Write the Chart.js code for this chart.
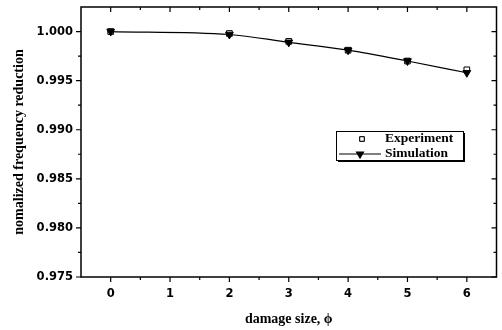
<!DOCTYPE html>
<html>
<head>
<meta charset="utf-8">
<script src="https://cdn.jsdelivr.net/npm/chart.js@4.4.1/dist/chart.umd.min.js"></script>
<style>
  html, body { margin: 0; padding: 0; background: #fff; }
  canvas { display: block; }
</style>
</head>
<body>
<canvas id="freqChart" width="502" height="330"></canvas>
<script>
// damage size vs. normalized frequency
const damageSize = [0, 2, 3, 4, 5, 6];
const experiment = [1.0000, 0.9998, 0.9990, 0.9981, 0.9970, 0.9961];
const simulation = [1.0000, 0.9997, 0.9989, 0.9981, 0.9970, 0.9958];
const xTickValues = [0, 1, 2, 3, 4, 5, 6];
const yTickValues = [0.975, 0.980, 0.985, 0.990, 0.995, 1.000];

const toPoints = (xs, ys) => xs.map((v, i) => ({ x: v, y: ys[i] }));

// box, inner/outer ticks on all four sides
const framePlugin = {
  id: 'frame',
  afterDraw(chart) {
    const { ctx, chartArea: a, scales: { x, y } } = chart;
    ctx.save();
    ctx.strokeStyle = '#000';
    ctx.lineWidth = 1.5;
    ctx.strokeRect(a.left, a.top, a.right - a.left, a.bottom - a.top);
    ctx.lineWidth = 1.2;
    ctx.beginPath();
    xTickValues.forEach((v, i) => {
      const px = x.getPixelForValue(v);
      ctx.moveTo(px, a.bottom); ctx.lineTo(px, a.bottom + 5);
      ctx.moveTo(px, a.top); ctx.lineTo(px, a.top + 5);
      if (i < xTickValues.length - 1) {
        const mx = x.getPixelForValue((v + xTickValues[i + 1]) / 2);
        ctx.moveTo(mx, a.bottom); ctx.lineTo(mx, a.bottom + 3);
        ctx.moveTo(mx, a.top); ctx.lineTo(mx, a.top + 3);
      }
    });
    yTickValues.forEach((v, i) => {
      const py = y.getPixelForValue(v);
      ctx.moveTo(a.left, py); ctx.lineTo(a.left - 5, py);
      ctx.moveTo(a.right, py); ctx.lineTo(a.right - 5, py);
      if (i < yTickValues.length - 1) {
        const my = y.getPixelForValue((v + yTickValues[i + 1]) / 2);
        ctx.moveTo(a.left, my); ctx.lineTo(a.left - 3, my);
        ctx.moveTo(a.right, my); ctx.lineTo(a.right - 3, my);
      }
    });
    ctx.stroke();
    ctx.restore();
  }
};

// boxed legend with drop shadow, inside the plot
const boxLegend = {
  id: 'boxLegend',
  afterDatasetsDraw(chart) {
    const ctx = chart.ctx;
    const bx = 336, by = 131, bw = 127, bh = 29;
    ctx.save();
    ctx.fillStyle = '#000';
    ctx.fillRect(bx + 2, by + 2, bw, bh);
    ctx.fillStyle = '#fff';
    ctx.fillRect(bx, by, bw, bh);
    ctx.strokeStyle = '#000';
    ctx.lineWidth = 1;
    ctx.strokeRect(bx + 0.5, by + 0.5, bw, bh);

    const exp = chart.data.datasets[0], sim = chart.data.datasets[1];
    Chart.helpers.drawPoint(ctx, {
      pointStyle: exp.pointStyle, radius: 3.2, rotation: 0, borderWidth: 1
    }, 362, 139);
    ctx.fillStyle = '#fff';
    ctx.fill();
    ctx.stroke();

    ctx.lineWidth = 1.2;
    ctx.beginPath();
    ctx.moveTo(339, 154); ctx.lineTo(381, 154);
    ctx.stroke();
    ctx.fillStyle = '#000';
    Chart.helpers.drawPoint(ctx, {
      pointStyle: sim.pointStyle, radius: 4, rotation: 180, borderWidth: 1
    }, 360, 154);
    ctx.fill();

    ctx.fillStyle = '#000';
    ctx.font = 'bold 13.5px "Liberation Serif"';
    ctx.textBaseline = 'middle';
    ctx.fillText(exp.label, 385, 139);
    ctx.fillText(sim.label, 385, 154);
    ctx.restore();
  }
};

const tickFont = { family: '"DejaVu Sans"', size: 11.5, weight: 'bold' };

new Chart(document.getElementById('freqChart'), {
  type: 'scatter',
  data: {
    datasets: [
      {
        label: 'Experiment',
        data: toPoints(damageSize, experiment),
        pointStyle: 'rect',
        pointRadius: 4,
        pointBorderWidth: 1,
        pointBorderColor: '#000',
        pointBackgroundColor: '#fff',
        showLine: false,
        order: 1
      },
      {
        label: 'Simulation',
        data: toPoints(damageSize, simulation),
        pointStyle: 'triangle',
        pointRotation: 180,
        pointRadius: 4.5,
        pointBorderWidth: 1,
        pointBorderColor: '#000',
        pointBackgroundColor: '#000',
        borderColor: '#000',
        borderWidth: 1.2,
        showLine: true,
        cubicInterpolationMode: 'monotone',
        order: 0
      }
    ]
  },
  options: {
    responsive: false,
    animation: false,
    devicePixelRatio: 1,
    layout: { padding: { top: 7, right: 4, left: 0, bottom: 0 } },
    plugins: {
      legend: { display: false },
      tooltip: { enabled: false }
    },
    scales: {
      x: {
        type: 'linear',
        min: -0.5,
        max: 6.5,
        afterBuildTicks: s => { s.ticks = xTickValues.map(v => ({ value: v })); },
        afterFit: s => { s.height = 53; s.paddingLeft = 0; s.paddingRight = 0; },
        grid: { display: false, drawTicks: false },
        border: { display: false },
        ticks: { color: '#000', font: tickFont, padding: 10, maxRotation: 0 },
        title: {
          display: true,
          text: 'damage size, \u03d5',
          color: '#000',
          font: { family: '"Liberation Serif"', size: 14, weight: 'bold' },
          padding: { top: 0, bottom: 2 }
        }
      },
      y: {
        type: 'linear',
        min: 0.975,
        max: 1.0025,
        afterBuildTicks: s => { s.ticks = yTickValues.map(v => ({ value: v })); },
        afterFit: s => { s.width = 81; s.paddingTop = 0; s.paddingBottom = 0; },
        grid: { display: false, drawTicks: false },
        border: { display: false },
        ticks: {
          color: '#000',
          font: tickFont,
          padding: 8,
          callback: v => v.toFixed(3)
        },
        title: {
          display: true,
          text: 'nomalized frequency reduction',
          color: '#000',
          font: { family: '"Liberation Serif"', size: 14, weight: 'bold' },
          padding: { top: 11, bottom: 0 }
        }
      }
    }
  },
  plugins: [framePlugin, boxLegend]
});
</script>
</body>
</html>
